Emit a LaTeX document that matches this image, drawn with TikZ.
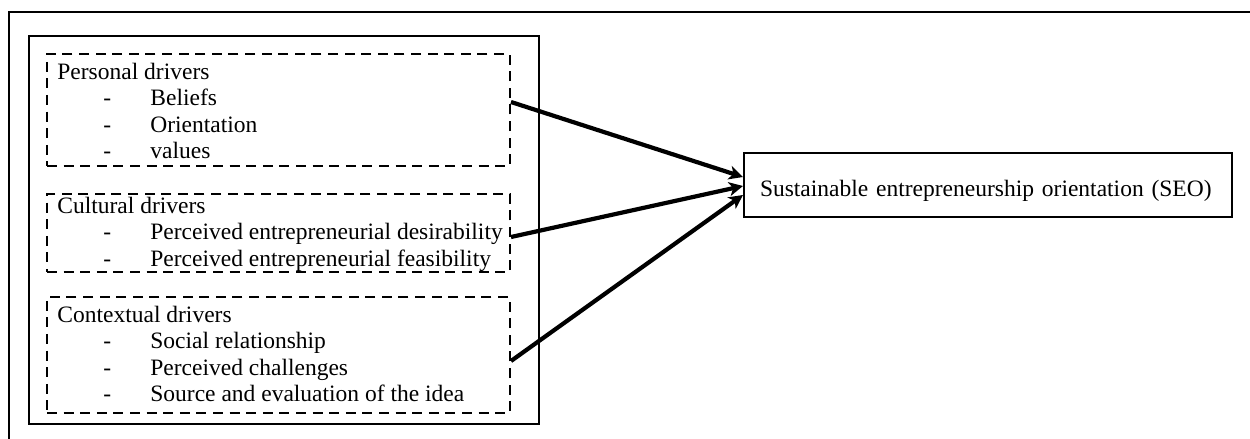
\documentclass[tikz,border=0pt]{standalone}
\usepackage{fontspec}
\setmainfont{Liberation Serif}
\usetikzlibrary{arrows.meta}

\tikzset{
  txt/.style={inner sep=0pt, anchor=base west, font=\fontsize{11.75}{13.25}\selectfont},
  frame/.style={draw, line width=0.75pt, inner sep=0pt},
  drvbox/.style={draw, line width=1pt, dash pattern=on 5pt off 3.3pt,
    minimum width=231.5pt, inner sep=0pt},
  seobox/.style={draw, line width=1pt, minimum width=244pt, minimum height=32pt,
    text width=228pt, align=left, inner xsep=8pt, inner ysep=0pt,
    text height=11pt, text depth=0pt, font=\fontsize{11.75}{13.25}\selectfont},
  link/.style={-{Stealth[length=7pt,width=7pt,inset=2pt]}, line width=2.1pt}
}

\begin{document}
\begin{tikzpicture}[x=0.5pt,y=-0.5pt]
    \useasboundingbox (0,0) rectangle (1250,439);

    % outer frame, cut by the page edge
    \draw[line width=1.1pt] (9,12) rectangle (1270,460);

    \node[frame, minimum width=255pt, minimum height=194pt] (drv) at (284,230) {};

    \node[drvbox, minimum height=56pt] (pers) at (278.5,110) {};
    \node[drvbox, minimum height=39pt] (cult) at (278.5,233) {};
    \node[drvbox, minimum height=58pt] (ctx) at (278.5,355) {};

    % headings
    \node[txt] (persH) at (57,79) {Personal drivers};
    \node[txt] (cultH) at (57,213) {Cultural drivers};
    \node[txt] (ctxH) at (57,322) {Contextual drivers};

    % items
    \foreach \t [count=\i] in {Beliefs, Orientation, values} {
        \node[txt] (persD\i) at (103,79+26.6*\i) {-};
        \node[txt] (persI\i) at (150,79+26.6*\i) {\t};
    }
    \foreach \t [count=\i] in {Perceived entrepreneurial desirability,
                               Perceived entrepreneurial feasibility} {
        \node[txt] (cultD\i) at (103,213+26.6*\i) {-};
        \node[txt] (cultI\i) at (150,213+26.6*\i) {\t};
    }
    \foreach \t [count=\i] in {Social relationship, Perceived challenges,
                               Source and evaluation of the idea} {
        \node[txt] (ctxD\i) at (103,322+26.6*\i) {-};
        \node[txt] (ctxI\i) at (150,322+26.6*\i) {\t};
    }

    \node[seobox] (seo) at (988,185) {Sustainable entrepreneurship orientation (SEO)};

    \draw[link] ([yshift=4pt]pers.east) -- ([yshift=4pt]seo.west);
    \draw[link] ([yshift=-2pt]cult.east) -- ([yshift=-0.5pt]seo.west);
    \draw[link] ([yshift=-3pt]ctx.east) -- ([yshift=-5pt]seo.west);

\end{tikzpicture}
\end{document}
